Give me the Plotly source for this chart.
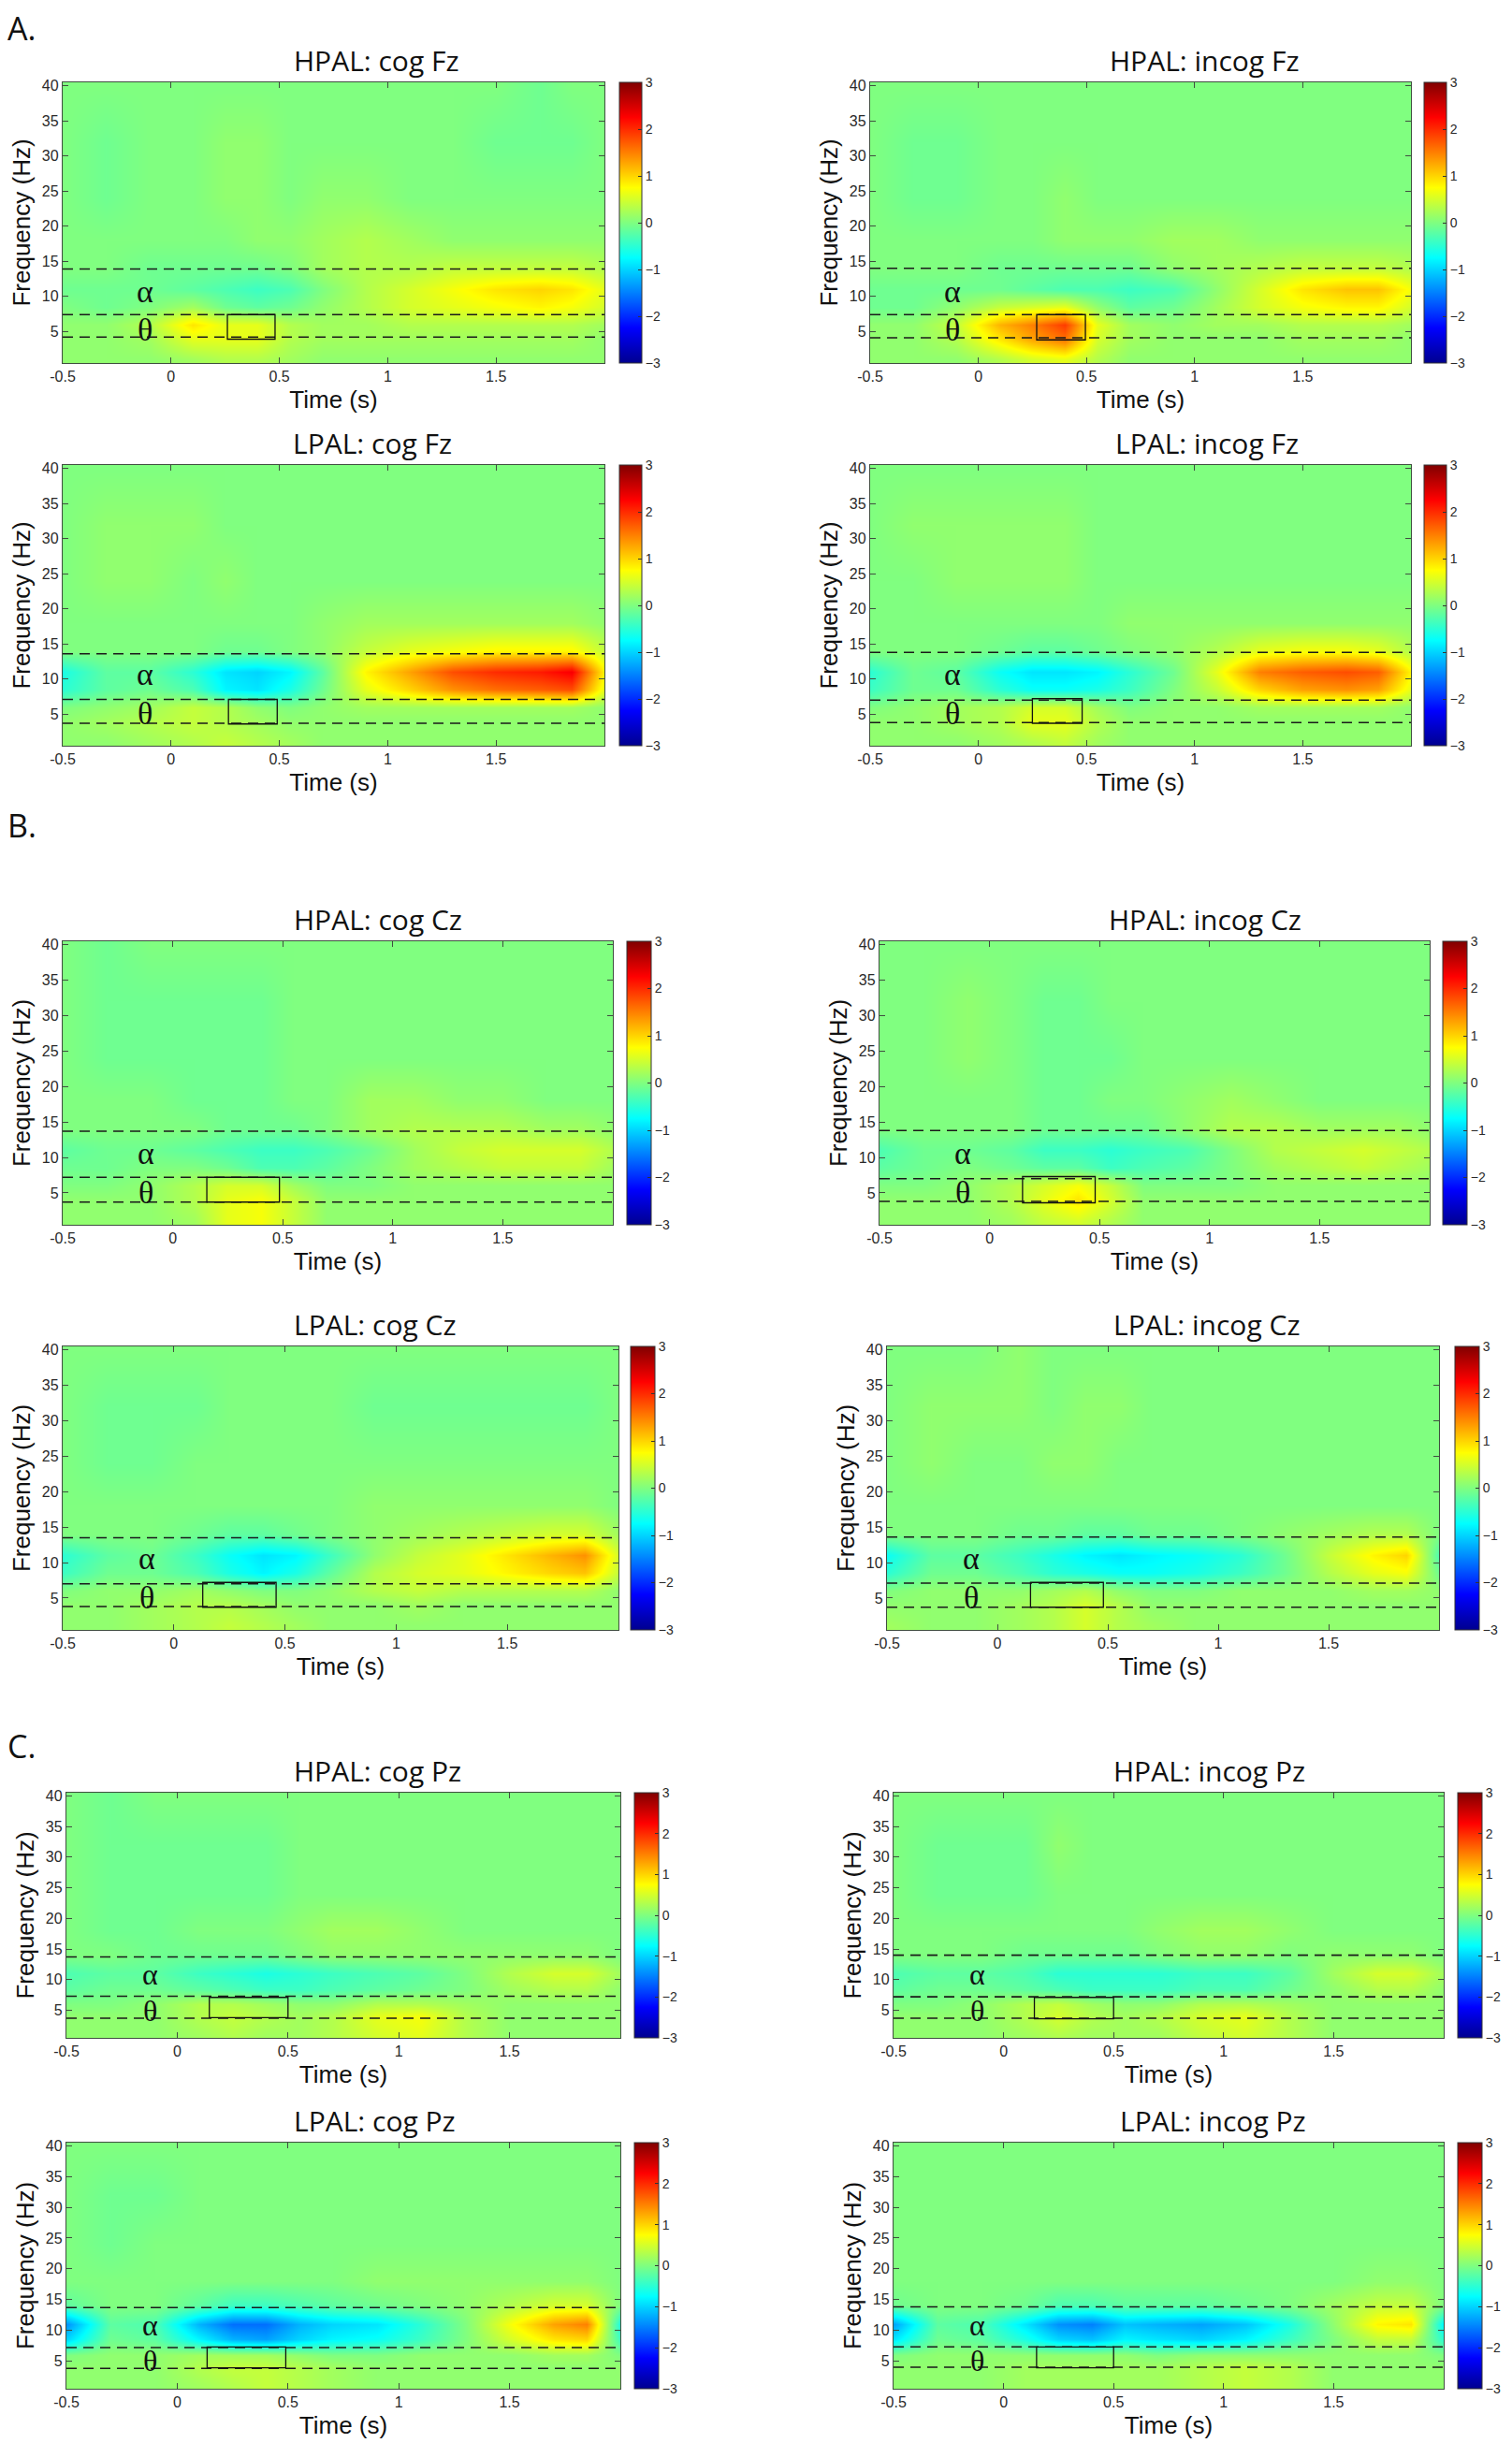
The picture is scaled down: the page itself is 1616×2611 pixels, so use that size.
import plotly.graph_objects as go

W, H = 1616, 2611

# ---------------- data ----------------
times = [-0.5, -0.3, -0.1, 0.1, 0.25, 0.4, 0.55, 0.7, 0.9, 1.1, 1.3, 1.5, 1.7, 1.85, 2.0]
freqs = [1, 4, 6, 8.5, 11, 14, 18, 24, 32, 40]
x_ticks = [-0.5, 0, 0.5, 1, 1.5]
x_ticklabels = ["-0.5", "0", "0.5", "1", "1.5"]
y_ticks = [5, 10, 15, 20, 25, 30, 35, 40]
cb_ticks = [-3, -2, -1, 0, 1, 2, 3]

titles = ["HPAL: cog Fz", "HPAL: incog Fz", "LPAL: cog Fz", "LPAL: incog Fz",
          "HPAL: cog Cz", "HPAL: incog Cz", "LPAL: cog Cz", "LPAL: incog Cz",
          "HPAL: cog Pz", "HPAL: incog Pz", "LPAL: cog Pz", "LPAL: incog Pz"]

z_hpal_cog_fz = [
    [0.1, 0.1, 0.1, 0.2, 0.3, 0.3, 0.2, 0.1, 0.1, 0.1, 0.1, 0.1, 0.1, 0.1, 0.1],
    [0.1, 0.1, 0.2, 0.6, 0.6, 0.6, 0.3, 0.2, 0.2, 0.2, 0.2, 0.2, 0.2, 0.2, 0.1],
    [0.1, 0.1, 0.3, 0.9, 0.6, 0.6, 0.3, 0.2, 0.2, 0.3, 0.3, 0.3, 0.3, 0.3, 0.2],
    [0.0, -0.1, 0.0, 0.2, -0.1, -0.2, -0.1, 0.1, 0.3, 0.5, 0.6, 0.7, 0.8, 0.7, 0.5],
    [-0.1, -0.1, -0.1, -0.2, -0.3, -0.4, -0.3, 0.0, 0.3, 0.5, 0.7, 0.9, 1.0, 0.9, 0.6],
    [0.0, 0.0, -0.1, -0.1, -0.1, -0.1, 0.0, 0.2, 0.3, 0.3, 0.4, 0.4, 0.4, 0.4, 0.3],
    [0.0, 0.0, 0.0, 0.0, 0.0, 0.1, 0.1, 0.2, 0.3, 0.2, 0.1, 0.1, 0.1, 0.1, 0.1],
    [0.0, -0.1, 0.0, 0.0, 0.1, 0.1, 0.0, 0.1, 0.1, 0.0, 0.0, 0.0, 0.0, 0.0, 0.0],
    [0.0, -0.1, 0.0, 0.0, 0.1, 0.1, 0.0, 0.0, 0.0, 0.0, 0.0, -0.1, -0.1, -0.1, 0.0],
    [0.0, 0.0, 0.0, 0.0, 0.0, 0.0, 0.0, 0.0, 0.0, 0.0, 0.0, 0.0, -0.1, 0.0, 0.0],
]
z_hpal_incog_fz = [
    [0.1, 0.1, 0.1, 0.3, 0.5, 0.6, 0.3, 0.1, 0.1, 0.1, 0.1, 0.1, 0.1, 0.1, 0.1],
    [0.1, 0.1, 0.3, 0.9, 1.3, 1.6, 0.5, 0.2, 0.1, 0.1, 0.1, 0.2, 0.2, 0.2, 0.1],
    [0.1, 0.1, 0.4, 1.2, 1.5, 1.9, 0.6, 0.2, 0.1, 0.2, 0.2, 0.3, 0.3, 0.3, 0.2],
    [-0.1, -0.1, 0.1, 0.4, 0.5, 0.6, 0.1, -0.2, -0.1, 0.2, 0.5, 0.7, 0.8, 0.8, 0.5],
    [-0.1, -0.1, -0.1, -0.1, -0.2, -0.3, -0.3, -0.4, -0.3, 0.1, 0.5, 0.9, 1.1, 1.1, 0.7],
    [0.0, 0.0, 0.0, -0.1, -0.1, -0.1, -0.1, -0.1, 0.1, 0.2, 0.3, 0.4, 0.4, 0.4, 0.3],
    [0.0, 0.0, 0.0, 0.0, 0.0, 0.1, 0.1, 0.1, 0.2, 0.2, 0.1, 0.1, 0.1, 0.1, 0.1],
    [0.0, -0.1, -0.1, 0.0, 0.0, 0.1, 0.0, 0.0, 0.0, 0.0, 0.0, 0.0, 0.0, 0.0, 0.0],
    [0.0, -0.1, -0.1, 0.0, 0.0, 0.0, 0.0, 0.0, 0.0, 0.0, 0.0, 0.0, 0.0, 0.0, 0.0],
    [0.0, 0.0, 0.0, 0.0, 0.0, 0.0, 0.0, 0.0, 0.0, 0.0, 0.0, 0.0, 0.0, 0.0, 0.0],
]
z_lpal_cog_fz = [
    [0.1, 0.1, 0.2, 0.3, 0.4, 0.3, 0.2, 0.1, 0.1, 0.1, 0.1, 0.1, 0.1, 0.1, 0.1],
    [0.1, 0.2, 0.3, 0.4, 0.3, 0.2, 0.1, 0.1, 0.1, 0.1, 0.1, 0.1, 0.1, 0.1, 0.1],
    [0.0, 0.1, 0.2, 0.4, 0.3, 0.1, 0.0, 0.1, 0.2, 0.2, 0.2, 0.2, 0.2, 0.2, 0.1],
    [-0.5, -0.2, -0.1, -0.3, -0.8, -0.9, -0.6, -0.1, 0.6, 1.0, 1.4, 1.6, 1.7, 1.8, 0.6],
    [-0.6, -0.2, -0.2, -0.5, -0.9, -1.0, -0.8, -0.2, 0.8, 1.3, 1.8, 2.0, 2.1, 2.3, 0.8],
    [0.0, 0.0, 0.0, 0.0, -0.1, -0.1, 0.0, 0.1, 0.4, 0.6, 0.7, 0.8, 0.8, 0.8, 0.4],
    [0.0, 0.0, 0.0, 0.0, 0.0, 0.0, 0.0, 0.1, 0.2, 0.2, 0.2, 0.2, 0.2, 0.2, 0.1],
    [0.0, 0.1, 0.1, 0.0, 0.1, 0.0, 0.0, 0.0, 0.0, 0.0, 0.0, 0.0, 0.0, 0.0, 0.0],
    [0.0, 0.1, 0.1, 0.1, 0.0, 0.0, 0.0, 0.0, 0.0, 0.0, 0.0, 0.0, 0.0, 0.0, 0.0],
    [0.0, 0.0, 0.0, 0.0, 0.0, 0.0, 0.0, 0.0, 0.0, 0.0, 0.0, 0.0, 0.0, 0.0, 0.0],
]
z_lpal_incog_fz = [
    [0.1, 0.1, 0.1, 0.2, 0.3, 0.4, 0.2, 0.1, 0.1, 0.1, 0.1, 0.1, 0.1, 0.1, 0.1],
    [0.1, 0.1, 0.2, 0.3, 0.6, 0.6, 0.3, 0.1, 0.1, 0.1, 0.1, 0.1, 0.1, 0.1, 0.1],
    [0.0, 0.1, 0.2, 0.3, 0.5, 0.5, 0.2, 0.0, 0.1, 0.1, 0.2, 0.2, 0.2, 0.2, 0.1],
    [-0.4, -0.1, -0.1, -0.5, -0.7, -0.7, -0.6, -0.4, 0.0, 0.4, 1.0, 1.3, 1.4, 1.3, 0.6],
    [-0.5, -0.1, -0.2, -0.7, -0.9, -0.9, -0.8, -0.5, -0.1, 0.6, 1.5, 1.7, 1.8, 1.7, 0.8],
    [0.0, 0.0, 0.0, -0.1, -0.2, -0.2, -0.1, 0.0, 0.1, 0.3, 0.6, 0.7, 0.7, 0.6, 0.3],
    [0.0, 0.0, 0.0, 0.0, 0.0, 0.0, 0.0, 0.1, 0.1, 0.1, 0.1, 0.1, 0.1, 0.1, 0.1],
    [0.0, 0.0, 0.1, 0.1, 0.1, 0.1, 0.0, 0.0, 0.0, 0.0, 0.0, 0.0, 0.0, 0.0, 0.0],
    [0.0, 0.1, 0.1, 0.1, 0.1, 0.1, 0.0, 0.0, 0.0, 0.0, 0.0, 0.0, 0.0, 0.0, 0.0],
    [0.0, 0.0, 0.0, 0.0, 0.0, 0.0, 0.0, 0.0, 0.0, 0.0, 0.0, 0.0, 0.0, 0.0, 0.0],
]
z_hpal_cog_cz = [
    [0.1, 0.1, 0.1, 0.2, 0.6, 0.7, 0.4, 0.1, 0.1, 0.1, 0.1, 0.1, 0.1, 0.1, 0.1],
    [0.1, 0.1, 0.1, 0.3, 0.6, 0.7, 0.4, 0.1, 0.1, 0.1, 0.1, 0.1, 0.1, 0.1, 0.1],
    [0.0, 0.0, 0.1, 0.3, 0.5, 0.5, 0.2, 0.0, 0.0, 0.1, 0.1, 0.1, 0.1, 0.1, 0.1],
    [-0.1, -0.1, 0.0, 0.0, -0.1, -0.3, -0.3, -0.2, 0.0, 0.2, 0.3, 0.4, 0.4, 0.4, 0.2],
    [-0.2, -0.1, -0.1, -0.2, -0.3, -0.4, -0.4, -0.3, -0.1, 0.2, 0.4, 0.5, 0.5, 0.5, 0.3],
    [0.0, 0.0, 0.0, 0.0, -0.1, -0.1, -0.1, 0.0, 0.2, 0.3, 0.3, 0.3, 0.2, 0.2, 0.1],
    [0.0, 0.0, 0.0, -0.1, -0.1, -0.1, 0.0, 0.0, 0.2, 0.2, 0.1, 0.1, 0.0, 0.0, 0.0],
    [0.0, -0.1, -0.1, -0.1, -0.1, -0.1, 0.0, 0.0, 0.0, 0.0, 0.0, 0.0, 0.0, 0.0, 0.0],
    [0.0, -0.1, -0.1, -0.1, -0.1, -0.1, 0.0, 0.0, 0.0, 0.0, 0.0, 0.0, 0.0, 0.0, 0.0],
    [0.0, -0.1, 0.0, 0.0, 0.0, 0.0, 0.0, 0.0, 0.0, 0.0, 0.0, 0.0, 0.0, 0.0, 0.0],
]
z_hpal_incog_cz = [
    [0.1, 0.1, 0.1, 0.2, 0.4, 0.5, 0.3, 0.1, 0.1, 0.1, 0.1, 0.1, 0.1, 0.1, 0.1],
    [0.1, 0.1, 0.1, 0.3, 0.6, 0.9, 0.5, 0.1, 0.1, 0.1, 0.1, 0.1, 0.1, 0.1, 0.1],
    [0.0, 0.0, 0.1, 0.3, 0.5, 0.7, 0.4, 0.0, 0.0, 0.0, 0.1, 0.1, 0.1, 0.1, 0.1],
    [-0.2, -0.1, 0.0, -0.1, -0.2, -0.2, -0.4, -0.3, -0.2, 0.0, 0.2, 0.3, 0.4, 0.3, 0.2],
    [-0.3, -0.1, -0.1, -0.2, -0.4, -0.4, -0.5, -0.4, -0.3, 0.0, 0.3, 0.4, 0.5, 0.4, 0.3],
    [0.0, 0.0, 0.0, 0.0, -0.1, -0.1, -0.1, -0.1, 0.1, 0.3, 0.3, 0.2, 0.2, 0.2, 0.1],
    [0.0, 0.0, 0.0, 0.0, -0.1, -0.1, 0.0, 0.0, 0.1, 0.2, 0.1, 0.0, 0.0, 0.0, 0.0],
    [0.0, 0.0, 0.1, 0.0, -0.1, -0.1, -0.1, 0.0, 0.0, 0.0, 0.0, 0.0, 0.0, 0.0, 0.0],
    [0.0, 0.0, 0.1, 0.0, -0.1, -0.1, 0.0, 0.0, 0.0, 0.0, 0.0, 0.0, 0.0, 0.0, 0.0],
    [0.0, 0.0, 0.0, 0.0, 0.0, 0.0, 0.0, 0.0, 0.0, 0.0, 0.0, 0.0, 0.0, 0.0, 0.0],
]
z_lpal_cog_cz = [
    [0.1, 0.1, 0.2, 0.3, 0.4, 0.3, 0.2, 0.1, 0.1, 0.1, 0.1, 0.1, 0.1, 0.1, 0.1],
    [0.1, 0.1, 0.2, 0.3, 0.3, 0.2, 0.1, 0.1, 0.1, 0.2, 0.1, 0.1, 0.1, 0.1, 0.1],
    [0.0, 0.1, 0.1, 0.2, 0.1, 0.0, 0.0, 0.1, 0.3, 0.4, 0.3, 0.3, 0.3, 0.3, 0.1],
    [-0.4, -0.1, -0.1, -0.3, -0.6, -0.8, -0.6, -0.2, 0.3, 0.5, 0.6, 0.8, 1.0, 1.1, 0.4],
    [-0.5, -0.2, -0.1, -0.4, -0.7, -0.9, -0.8, -0.4, 0.1, 0.4, 0.6, 0.9, 1.2, 1.4, 0.5],
    [0.0, 0.0, 0.0, -0.1, -0.2, -0.2, -0.1, 0.0, 0.1, 0.2, 0.3, 0.4, 0.5, 0.5, 0.2],
    [0.0, 0.0, 0.0, 0.0, 0.0, 0.0, 0.0, 0.0, 0.1, 0.1, 0.1, 0.1, 0.1, 0.1, 0.0],
    [0.0, -0.1, -0.1, 0.0, 0.0, 0.0, 0.0, 0.0, 0.0, 0.0, 0.0, 0.0, 0.0, 0.0, 0.0],
    [0.0, -0.1, -0.1, -0.1, 0.0, 0.0, 0.0, 0.0, -0.1, -0.1, -0.1, -0.1, -0.1, -0.1, 0.0],
    [0.0, 0.0, 0.0, 0.0, 0.0, 0.0, 0.0, 0.0, 0.0, 0.0, 0.0, 0.0, 0.0, 0.0, 0.0],
]
z_lpal_incog_cz = [
    [0.2, 0.1, 0.1, 0.2, 0.3, 0.5, 0.3, 0.2, 0.1, 0.1, 0.1, 0.1, 0.1, 0.1, 0.1],
    [0.1, 0.1, 0.1, 0.2, 0.3, 0.5, 0.3, 0.1, 0.1, 0.1, 0.1, 0.1, 0.1, 0.1, 0.1],
    [0.0, 0.1, 0.1, 0.1, 0.2, 0.3, 0.1, 0.0, 0.0, 0.1, 0.1, 0.1, 0.2, 0.2, 0.1],
    [-0.5, -0.1, -0.1, -0.3, -0.5, -0.6, -0.7, -0.7, -0.6, -0.4, -0.1, 0.3, 0.6, 0.7, -0.1],
    [-0.7, -0.2, -0.2, -0.4, -0.6, -0.8, -0.9, -0.8, -0.7, -0.5, -0.1, 0.4, 0.8, 1.0, -0.3],
    [0.0, 0.0, 0.0, -0.1, -0.1, -0.2, -0.2, -0.1, -0.1, 0.0, 0.1, 0.2, 0.3, 0.3, 0.0],
    [0.0, 0.0, 0.0, 0.0, 0.0, 0.0, 0.0, 0.0, 0.0, 0.0, 0.0, 0.0, 0.0, 0.0, 0.0],
    [0.0, 0.1, 0.0, 0.0, 0.1, 0.1, 0.0, 0.0, 0.0, 0.0, 0.0, 0.0, 0.0, 0.0, 0.0],
    [0.0, 0.1, 0.1, 0.1, 0.0, 0.1, 0.1, 0.0, 0.0, 0.0, 0.0, 0.0, 0.0, 0.0, 0.0],
    [0.0, 0.0, 0.0, 0.1, 0.0, 0.0, 0.0, 0.0, 0.0, 0.0, 0.0, 0.0, 0.0, 0.0, 0.0],
]
z_hpal_cog_pz = [
    [0.1, 0.1, 0.1, 0.2, 0.3, 0.2, 0.2, 0.3, 0.5, 0.6, 0.3, 0.1, 0.1, 0.1, 0.1],
    [0.1, 0.1, 0.1, 0.3, 0.4, 0.3, 0.2, 0.3, 0.6, 0.7, 0.3, 0.1, 0.1, 0.1, 0.1],
    [0.0, 0.0, 0.1, 0.3, 0.3, 0.2, 0.1, 0.1, 0.3, 0.3, 0.2, 0.1, 0.1, 0.1, 0.1],
    [-0.2, -0.1, -0.1, -0.2, -0.3, -0.4, -0.4, -0.3, -0.2, -0.1, 0.0, 0.2, 0.3, 0.3, 0.1],
    [-0.3, -0.2, -0.2, -0.4, -0.5, -0.6, -0.5, -0.4, -0.3, -0.2, 0.0, 0.3, 0.5, 0.5, 0.2],
    [0.0, 0.0, -0.1, -0.1, -0.1, -0.1, 0.0, 0.1, 0.1, 0.1, 0.1, 0.1, 0.1, 0.1, 0.0],
    [0.0, -0.1, -0.1, 0.0, 0.0, 0.0, 0.1, 0.2, 0.2, 0.1, 0.0, 0.0, 0.0, 0.0, 0.0],
    [0.0, -0.1, -0.1, -0.1, -0.1, -0.1, 0.0, 0.0, 0.0, 0.0, 0.0, 0.0, 0.0, 0.0, 0.0],
    [0.0, -0.1, -0.1, -0.1, -0.1, -0.1, 0.0, 0.0, 0.0, 0.0, 0.0, 0.0, 0.0, 0.0, 0.0],
    [0.0, -0.1, 0.0, 0.0, 0.0, 0.0, 0.0, 0.0, 0.0, 0.0, 0.0, 0.0, 0.0, 0.0, 0.0],
]
z_hpal_incog_pz = [
    [0.1, 0.1, 0.1, 0.2, 0.3, 0.2, 0.2, 0.2, 0.4, 0.5, 0.3, 0.1, 0.1, 0.1, 0.1],
    [0.1, 0.1, 0.1, 0.3, 0.5, 0.3, 0.2, 0.3, 0.5, 0.6, 0.3, 0.1, 0.1, 0.1, 0.1],
    [0.0, 0.0, 0.1, 0.3, 0.4, 0.2, 0.1, 0.1, 0.3, 0.3, 0.2, 0.1, 0.1, 0.1, 0.1],
    [-0.2, -0.1, -0.1, -0.2, -0.3, -0.4, -0.4, -0.4, -0.3, -0.3, -0.1, 0.1, 0.3, 0.3, 0.1],
    [-0.3, -0.2, -0.2, -0.3, -0.5, -0.5, -0.5, -0.5, -0.4, -0.4, -0.2, 0.2, 0.5, 0.5, 0.2],
    [0.0, 0.0, 0.0, -0.1, -0.1, -0.1, -0.1, 0.0, 0.1, 0.1, 0.0, 0.1, 0.1, 0.1, 0.0],
    [0.0, 0.0, 0.0, 0.0, 0.0, 0.0, 0.0, 0.1, 0.2, 0.2, 0.1, 0.0, 0.0, 0.0, 0.0],
    [0.0, -0.1, -0.1, -0.1, 0.0, 0.0, 0.0, 0.0, 0.0, 0.0, 0.0, 0.0, 0.0, 0.0, 0.0],
    [0.0, -0.1, -0.1, -0.1, 0.1, 0.0, 0.0, 0.0, 0.0, 0.0, 0.0, 0.0, 0.0, 0.0, 0.0],
    [0.0, 0.0, 0.0, 0.0, 0.0, 0.0, 0.0, 0.0, 0.0, 0.0, 0.0, 0.0, 0.0, 0.0, 0.0],
]
z_lpal_cog_pz = [
    [0.1, 0.1, 0.1, 0.2, 0.3, 0.4, 0.3, 0.2, 0.1, 0.1, 0.1, 0.1, 0.1, 0.1, 0.1],
    [0.1, 0.1, 0.1, 0.3, 0.4, 0.4, 0.3, 0.2, 0.1, 0.1, 0.1, 0.1, 0.1, 0.1, 0.1],
    [0.0, 0.1, 0.1, 0.2, 0.2, 0.2, 0.1, 0.0, 0.0, 0.1, 0.1, 0.1, 0.2, 0.2, 0.0],
    [-1.0, -0.1, -0.2, -0.8, -1.2, -1.3, -1.0, -0.8, -0.7, -0.4, 0.0, 0.5, 0.9, 1.0, -0.4],
    [-1.4, -0.2, -0.3, -1.2, -1.6, -1.6, -1.2, -1.0, -0.9, -0.5, 0.0, 0.7, 1.3, 1.5, -0.6],
    [-0.2, 0.0, 0.0, -0.2, -0.4, -0.4, -0.3, -0.2, -0.1, 0.0, 0.1, 0.3, 0.5, 0.5, 0.0],
    [0.0, 0.0, 0.0, 0.0, 0.0, 0.0, 0.0, 0.0, 0.1, 0.1, 0.1, 0.1, 0.1, 0.1, 0.0],
    [0.0, -0.1, 0.0, 0.0, 0.0, 0.0, 0.0, 0.0, 0.0, 0.0, 0.0, 0.0, 0.0, 0.0, 0.0],
    [0.0, -0.1, -0.1, 0.0, 0.0, 0.0, 0.0, 0.0, 0.0, 0.0, 0.0, 0.0, 0.0, 0.0, 0.0],
    [0.0, 0.0, 0.0, 0.0, 0.0, 0.0, 0.0, 0.0, 0.0, 0.0, 0.0, 0.0, 0.0, 0.0, 0.0],
]
z_lpal_incog_pz = [
    [0.1, 0.1, 0.1, 0.2, 0.2, 0.2, 0.2, 0.2, 0.3, 0.4, 0.3, 0.1, 0.1, 0.1, 0.1],
    [0.1, 0.1, 0.1, 0.2, 0.2, 0.2, 0.2, 0.2, 0.3, 0.4, 0.3, 0.1, 0.1, 0.1, 0.1],
    [0.0, 0.1, 0.1, 0.1, 0.1, 0.1, 0.1, 0.0, 0.1, 0.1, 0.1, 0.1, 0.1, 0.1, 0.0],
    [-0.9, -0.1, -0.2, -0.6, -1.0, -1.1, -0.8, -0.9, -1.0, -0.8, -0.4, 0.0, 0.4, 0.4, -0.5],
    [-1.3, -0.2, -0.3, -0.9, -1.4, -1.5, -1.1, -1.2, -1.3, -1.1, -0.6, 0.1, 0.8, 0.9, -0.8],
    [-0.1, 0.0, 0.0, -0.1, -0.3, -0.3, -0.2, -0.2, -0.2, -0.1, 0.0, 0.2, 0.4, 0.4, 0.0],
    [0.0, 0.0, 0.0, 0.0, 0.0, 0.0, 0.0, 0.0, 0.0, 0.0, 0.0, 0.0, 0.1, 0.1, 0.0],
    [0.0, 0.0, 0.0, 0.0, 0.0, 0.0, 0.0, 0.0, 0.0, 0.0, 0.0, 0.0, 0.0, 0.0, 0.0],
    [0.0, 0.0, 0.0, 0.0, 0.0, 0.0, 0.0, 0.0, 0.0, 0.0, 0.0, 0.0, 0.0, 0.0, 0.0],
    [0.0, 0.0, 0.0, 0.0, 0.0, 0.0, 0.0, 0.0, 0.0, 0.0, 0.0, 0.0, 0.0, 0.0, 0.0],
]

z_all = [z_hpal_cog_fz, z_hpal_incog_fz, z_lpal_cog_fz, z_lpal_incog_fz,
         z_hpal_cog_cz, z_hpal_incog_cz, z_lpal_cog_cz, z_lpal_incog_cz,
         z_hpal_cog_pz, z_hpal_incog_pz, z_lpal_cog_pz, z_lpal_incog_pz]

# band boundaries (Hz) drawn as dashed lines
alpha_hi = [13.9, 14.0, 13.6, 13.8, 13.7, 13.8, 13.5, 13.6, 13.7, 14.0, 13.7, 13.8]
theta_hi = [7.4, 7.4, 7.1, 7.0, 7.2, 7.0, 7.0, 7.1, 7.3, 7.2, 7.2, 7.3]
theta_lo = [4.2, 4.1, 3.7, 3.8, 3.7, 3.8, 3.8, 3.7, 3.7, 3.7, 3.8, 4.0]

# theta window boxes (s, Hz)
box_t0 = [0.26, 0.27, 0.265, 0.25, 0.155, 0.15, 0.13, 0.15, 0.145, 0.14, 0.135, 0.15]
box_t1 = [0.48, 0.495, 0.49, 0.48, 0.485, 0.48, 0.46, 0.48, 0.50, 0.50, 0.49, 0.50]
box_f0 = [3.9, 3.8, 3.6, 3.7, 3.7, 3.6, 3.7, 3.7, 3.8, 3.6, 3.9, 3.9]
box_f1 = [7.4, 7.4, 7.1, 7.2, 7.2, 7.3, 7.2, 7.2, 7.1, 7.1, 7.3, 7.3]

# band label positions (time s, frequency Hz) per panel
band_label_t = [-0.12] * 12
alpha_label_f = [10.7, 10.7, 10.7, 10.7, 10.6, 10.6, 10.6, 10.6, 10.9, 10.9, 10.9, 10.9]
theta_label_f = [5.2, 5.2, 5.1, 5.1, 5.1, 5.1, 5.1, 5.1, 5.0, 5.0, 5.0, 5.0]

# ---------------- layout geometry (pixels) ----------------
# x0, x1, y0, y1 of plot area; colorbar left/right; title centre x
geom = [
    (67, 646, 88, 388, 662, 686, 402),
    (930, 1508, 88, 388, 1522, 1546, 1287),
    (67, 646, 497, 797, 662, 686, 398),
    (930, 1508, 497, 797, 1522, 1546, 1290),
    (67, 655, 1006, 1309, 670, 696, 404),
    (940, 1528, 1006, 1309, 1542, 1568, 1288),
    (67, 661, 1439, 1742, 674, 700, 400),
    (948, 1538, 1439, 1742, 1555, 1581, 1289),
    (71, 663, 1916, 2178, 678, 704, 403),
    (955, 1543, 1916, 2178, 1558, 1584, 1292),
    (71, 663, 2290, 2553, 678, 704, 400),
    (955, 1543, 2290, 2553, 1558, 1584, 1296),
]
sections = [("A.", 30), ("B.", 882), ("C.", 1866)]

JET = [[0.0, "#00008F"], [0.125, "#0000FF"], [0.375, "#00FFFF"],
       [0.625, "#FFFF00"], [0.875, "#FF0000"], [1.0, "#800000"]]

AXC = "#3f4f3f"
TICKFONT = dict(family="Liberation Sans, Arial, sans-serif", size=16, color="#2a2a2a")
LABFONT = dict(family="Liberation Sans, Arial, sans-serif", size=26, color="#111111")


def px(xp):
    return xp / W


def py(yp):
    return 1 - yp / H


fig = go.Figure()
annotations = []
shapes = []
layout_axes = {}

for i, (x0, x1, y0, y1, c0, c1, tx) in enumerate(geom):
    k = i + 1
    xs = "x" if k == 1 else f"x{k}"
    ys = "y" if k == 1 else f"y{k}"
    xname = "xaxis" if k == 1 else f"xaxis{k}"
    yname = "yaxis" if k == 1 else f"yaxis{k}"

    fig.add_trace(go.Heatmap(
        x=times, y=freqs, z=z_all[i], zmin=-3, zmax=3, colorscale=JET,
        zsmooth="best", xaxis=xs, yaxis=ys, hoverinfo="skip",
        colorbar=dict(
            x=px(c0), xanchor="left", xpad=0, ypad=0,
            y=py((y0 + y1) / 2), yanchor="middle",
            len=(y1 - y0) / H, lenmode="fraction",
            thickness=c1 - c0, thicknessmode="pixels",
            outlinewidth=1, outlinecolor="#333333",
            tickvals=cb_ticks, ticks="inside", ticklen=4, tickcolor="#333333",
            tickfont=dict(family="Liberation Sans, Arial, sans-serif", size=14, color="#2a2a2a"),
        ),
    ))

    layout_axes[xname] = dict(
        domain=[px(x0), px(x1)], anchor=ys, range=[-0.5, 2.0],
        tickvals=x_ticks, ticktext=x_ticklabels, ticks="inside", ticklen=6,
        tickcolor=AXC, showline=True, linecolor=AXC, linewidth=1.3, mirror="ticks",
        showgrid=False, zeroline=False, tickfont=TICKFONT,
        title=dict(text="Time (s)", font=LABFONT, standoff=7),
    )
    layout_axes[yname] = dict(
        domain=[py(y1), py(y0)], anchor=xs, range=[0.5, 40.5],
        tickvals=y_ticks, ticks="inside", ticklen=6,
        tickcolor=AXC, showline=True, linecolor=AXC, linewidth=1.3, mirror="ticks",
        showgrid=False, zeroline=False, tickfont=TICKFONT,
        title=dict(text="Frequency (Hz)", font=LABFONT, standoff=4),
    )

    # dashed band lines
    for fval in (alpha_hi[i], theta_hi[i], theta_lo[i]):
        shapes.append(dict(type="line", xref=f"{xs} domain", yref=ys,
                           x0=0, x1=1, y0=fval, y1=fval,
                           line=dict(color="#1a1a1a", width=1.6, dash="11px,7px")))
    # theta box
    shapes.append(dict(type="rect", xref=xs, yref=ys,
                       x0=box_t0[i], x1=box_t1[i], y0=box_f0[i], y1=box_f1[i],
                       line=dict(color="#111111", width=1.3)))

    # panel title
    annotations.append(dict(text=titles[i], xref="paper", yref="paper",
                            x=px(tx), y=py(y0 - 1), xanchor="center", yanchor="bottom",
                            showarrow=False,
                            font=dict(family="Open Sans, Noto Sans, sans-serif", size=30, color="#111111")))
    # band labels
    lab_size = 34 if i < 8 else 32
    for sym, fval in (("α", alpha_label_f[i]), ("θ", theta_label_f[i])):
        annotations.append(dict(text=sym, xref=xs, yref=ys, x=band_label_t[i], y=fval,
                                xanchor="center", yanchor="middle", showarrow=False,
                                font=dict(family="Liberation Serif, Times New Roman, serif",
                                          size=lab_size, color="#111111")))

for lab, yy in sections:
    annotations.append(dict(text=lab, xref="paper", yref="paper", x=px(6), y=py(yy),
                            xanchor="left", yanchor="middle", showarrow=False,
                            font=dict(family="Open Sans, Noto Sans, sans-serif", size=34, color="#111111")))

fig.update_layout(
    width=W, height=H, autosize=False,
    margin=dict(l=0, r=0, t=0, b=0, autoexpand=False),
    paper_bgcolor="white", plot_bgcolor="white",
    showlegend=False,
    annotations=annotations, shapes=shapes,
    **layout_axes,
)

fig.write_html("out.html",
               config={"displayModeBar": False},
               post_script="document.body.style.margin='0px';document.body.style.overflow='hidden';")
